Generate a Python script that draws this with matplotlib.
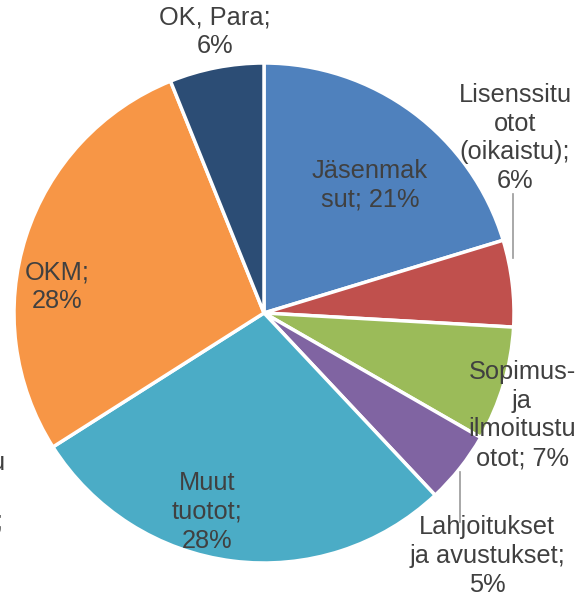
import matplotlib.pyplot as plt

# Revenue shares
labels = ['Jäsenmak\nsut; 21%', 'Lisenssitu\notot\n(oikaistu);\n6%', 'Sopimus-\nja\nilmoitustu\notot; 7%',
          'Lahjoitukset\nja avustukset;\n5%', 'Muut\ntuotot;\n28%', 'OKM;\n28%', 'OK, Para;\n6%']
values = [20.3, 5.6, 7.4, 4.7, 28.0, 27.9, 6.1]
colors = ['#4F81BD', '#C0504D', '#9BBB59', '#8064A2', '#4BACC6', '#F79646', '#2C4D75']

# label centres in pixel coords (x, y from top)
label_pos = [(370, 185), (515, 138), (522, 415), (487, 556), (207, 512), (57, 287), (215, 32)]

W, H = 579, 601
fig = plt.figure(figsize=(W / 100, H / 100), dpi=100)
ax = fig.add_axes([0, 0, 1, 1])

ax.pie(values, colors=colors, startangle=90, counterclock=False,
       center=(264, H - 313), radius=250, frame=True,
       wedgeprops=dict(edgecolor='white', linewidth=2.5))
ax.set_xlim(0, W)
ax.set_ylim(0, H)
ax.set_aspect('auto')
ax.axis('off')

for lab, (x, y) in zip(labels, label_pos):
    ax.text(x, H - y, lab, ha='center', va='center', fontsize=18.3, color='#404040',
            family='Liberation Sans', linespacing=1.25)

# leader lines
ax.plot([513, 513], [H - 194, H - 258], color='#999999', lw=1.2)
ax.plot([460, 460], [H - 472, H - 522], color='#999999', lw=1.2)

# cut-off text at the left edge
ax.text(4, H - 463, 'u', ha='right', va='center', fontsize=18.3, color='#404040', family='Liberation Sans')
ax.text(3, H - 522, ';', ha='right', va='center', fontsize=18.3, color='#404040', family='Liberation Sans')

fig.savefig('out.png', dpi=100)
